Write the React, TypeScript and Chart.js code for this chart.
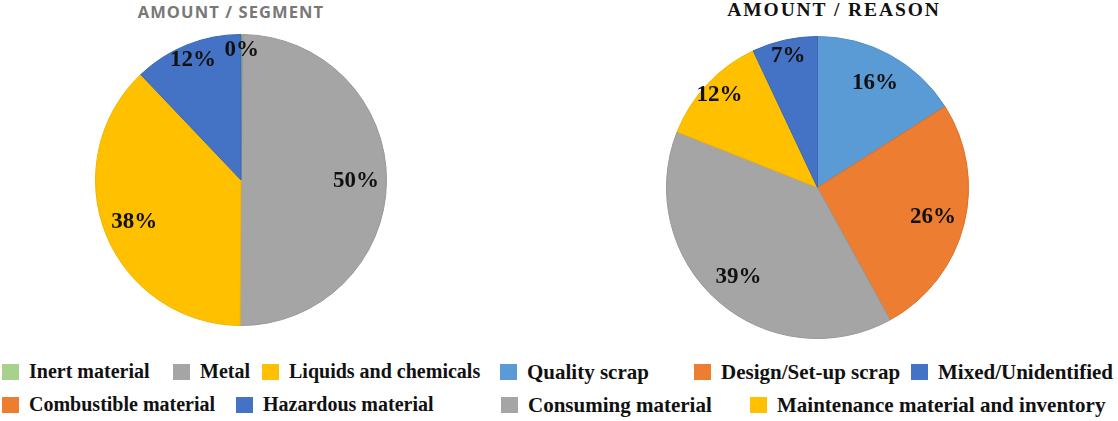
import React, { useEffect, useRef } from "react";
import { Chart, registerables } from "chart.js";
Chart.register(...registerables);

// ---- Data ----
const segmentTitle = "AMOUNT / SEGMENT";
const segmentLabels = ["Inert material", "Metal", "Liquids and chemicals", "Combustible material", "Hazardous material"];
const segmentValues = [0.2, 49.9, 37.8, 0, 12.1];
const segmentColors = ["#A9D18E", "#A5A5A5", "#FFC000", "#ED7D31", "#4472C4"];
const segmentBorders = ["#98C27C", "#979797", "#F0B400", "#DE6E25", "#3C66B4"];
const segmentLegendRows = [[0, 1, 2], [3, 4]];

const reasonTitle = "AMOUNT / REASON";
const reasonLabels = ["Quality scrap", "Design/Set-up scrap", "Consuming material", "Maintenance material and inventory", "Mixed/Unidentified"];
const reasonValues = [16, 26, 39, 12, 7];
const reasonColors = ["#5B9BD5", "#ED7D31", "#A5A5A5", "#FFC000", "#4472C4"];
const reasonBorders = ["#5290CA", "#DE6E25", "#979797", "#F0B400", "#3C66B4"];
const reasonLegendRows = [[0, 1, 4], [2, 3]];

// ---- Layout (not data) ----
const segmentLegendX = [[2, 173, 262], [2, 236]];
const reasonLegendX = [[500, 694, 911], [501, 750]];
const legendRowY = [364, 397];

const pctLabels = {
  id: "pctLabels",
  afterDatasetsDraw(chart: any) {
    const ctx = chart.ctx;
    const ds = chart.data.datasets[0];
    const meta = chart.getDatasetMeta(0);
    ctx.save();
    ctx.font = "bold 23px 'Liberation Serif', 'Times New Roman', serif";
    ctx.fillStyle = "#111";
    ctx.textAlign = "center";
    ctx.textBaseline = "middle";
    meta.data.forEach((arc: any, i: number) => {
      const v = ds.data[i] as number;
      if (!v) return;
      const { x, y, startAngle, endAngle, outerRadius } = arc.getProps(
        ["x", "y", "startAngle", "endAngle", "outerRadius"],
        true
      );
      const mid = (startAngle + endAngle) / 2;
      const f = v < 15 ? 0.89 : 0.79;
      ctx.fillText(Math.round(v) + "%", x + Math.cos(mid) * outerRadius * f, y + Math.sin(mid) * outerRadius * f);
    });
    ctx.restore();
  },
};

function Pie(props: { labels: string[]; values: number[]; colors: string[]; borders: string[]; left: number; top: number; size: number }) {
  const ref = useRef<HTMLCanvasElement>(null);
  useEffect(() => {
    const chart = new Chart(ref.current as HTMLCanvasElement, {
      type: "pie",
      data: {
        labels: props.labels,
        datasets: [
          {
            data: props.values,
            backgroundColor: props.colors,
            borderColor: props.borders,
            borderWidth: 1,
          },
        ],
      },
      options: {
        responsive: false,
        animation: false,
        layout: { padding: 0 },
        plugins: {
          legend: { display: false },
          tooltip: { enabled: false },
          title: { display: false },
        },
      },
      plugins: [pctLabels as any],
    });
    return () => chart.destroy();
  }, []);
  return (
    <canvas
      ref={ref}
      width={props.size}
      height={props.size}
      style={{ position: "absolute", left: props.left, top: props.top, width: props.size, height: props.size }}
    />
  );
}

function Legend(props: { labels: string[]; colors: string[]; rows: number[][]; xs: number[][]; fontSize: number }) {
  const items: any[] = [];
  props.rows.forEach((row, r) =>
    row.forEach((idx, c) => {
      const x = props.xs[r][c];
      const y = legendRowY[r];
      items.push(
        <div key={"b" + idx} style={{ position: "absolute", left: x, top: y, width: 17, height: 16, background: props.colors[idx] }} />
      );
      items.push(
        <div
          key={"t" + idx}
          style={{
            position: "absolute",
            left: x + 27,
            top: y - 4,
            height: 24,
            lineHeight: "24px",
            font: `bold ${props.fontSize}px 'Liberation Serif', 'Times New Roman', serif`,
            color: "#111",
            whiteSpace: "nowrap",
          }}
        >
          {props.labels[idx]}
        </div>
      );
    })
  );
  return <>{items}</>;
}

export default function App() {
  useEffect(() => {
    document.body.style.margin = "0";
    document.body.style.background = "#ffffff";
  }, []);
  return (
    <div style={{ position: "relative", width: 1118, height: 421, background: "#fff", overflow: "hidden" }}>
      <div
        style={{
          position: "absolute",
          left: 231 - 150,
          width: 300,
          top: 1,
          textAlign: "center",
          font: "bold 16.5px 'Open Sans', sans-serif",
          letterSpacing: "1.1px",
          color: "#787878",
          lineHeight: "22px",
        }}
      >
        {segmentTitle}
      </div>
      <div
        style={{
          position: "absolute",
          left: 834 - 150,
          width: 300,
          top: -2,
          textAlign: "center",
          font: "bold 19.5px 'Liberation Serif', 'Times New Roman', serif",
          letterSpacing: "1.9px",
          color: "#111",
          lineHeight: "24px",
        }}
      >
        {reasonTitle}
      </div>
      <Pie labels={segmentLabels} values={segmentValues} colors={segmentColors} borders={segmentBorders} left={95} top={34} size={292} />
      <Pie labels={reasonLabels} values={reasonValues} colors={reasonColors} borders={reasonBorders} left={666} top={36} size={303} />
      <Legend labels={segmentLabels} colors={segmentColors} rows={segmentLegendRows} xs={segmentLegendX} fontSize={20} />
      <Legend labels={reasonLabels} colors={reasonColors} rows={reasonLegendRows} xs={reasonLegendX} fontSize={21} />
    </div>
  );
}
